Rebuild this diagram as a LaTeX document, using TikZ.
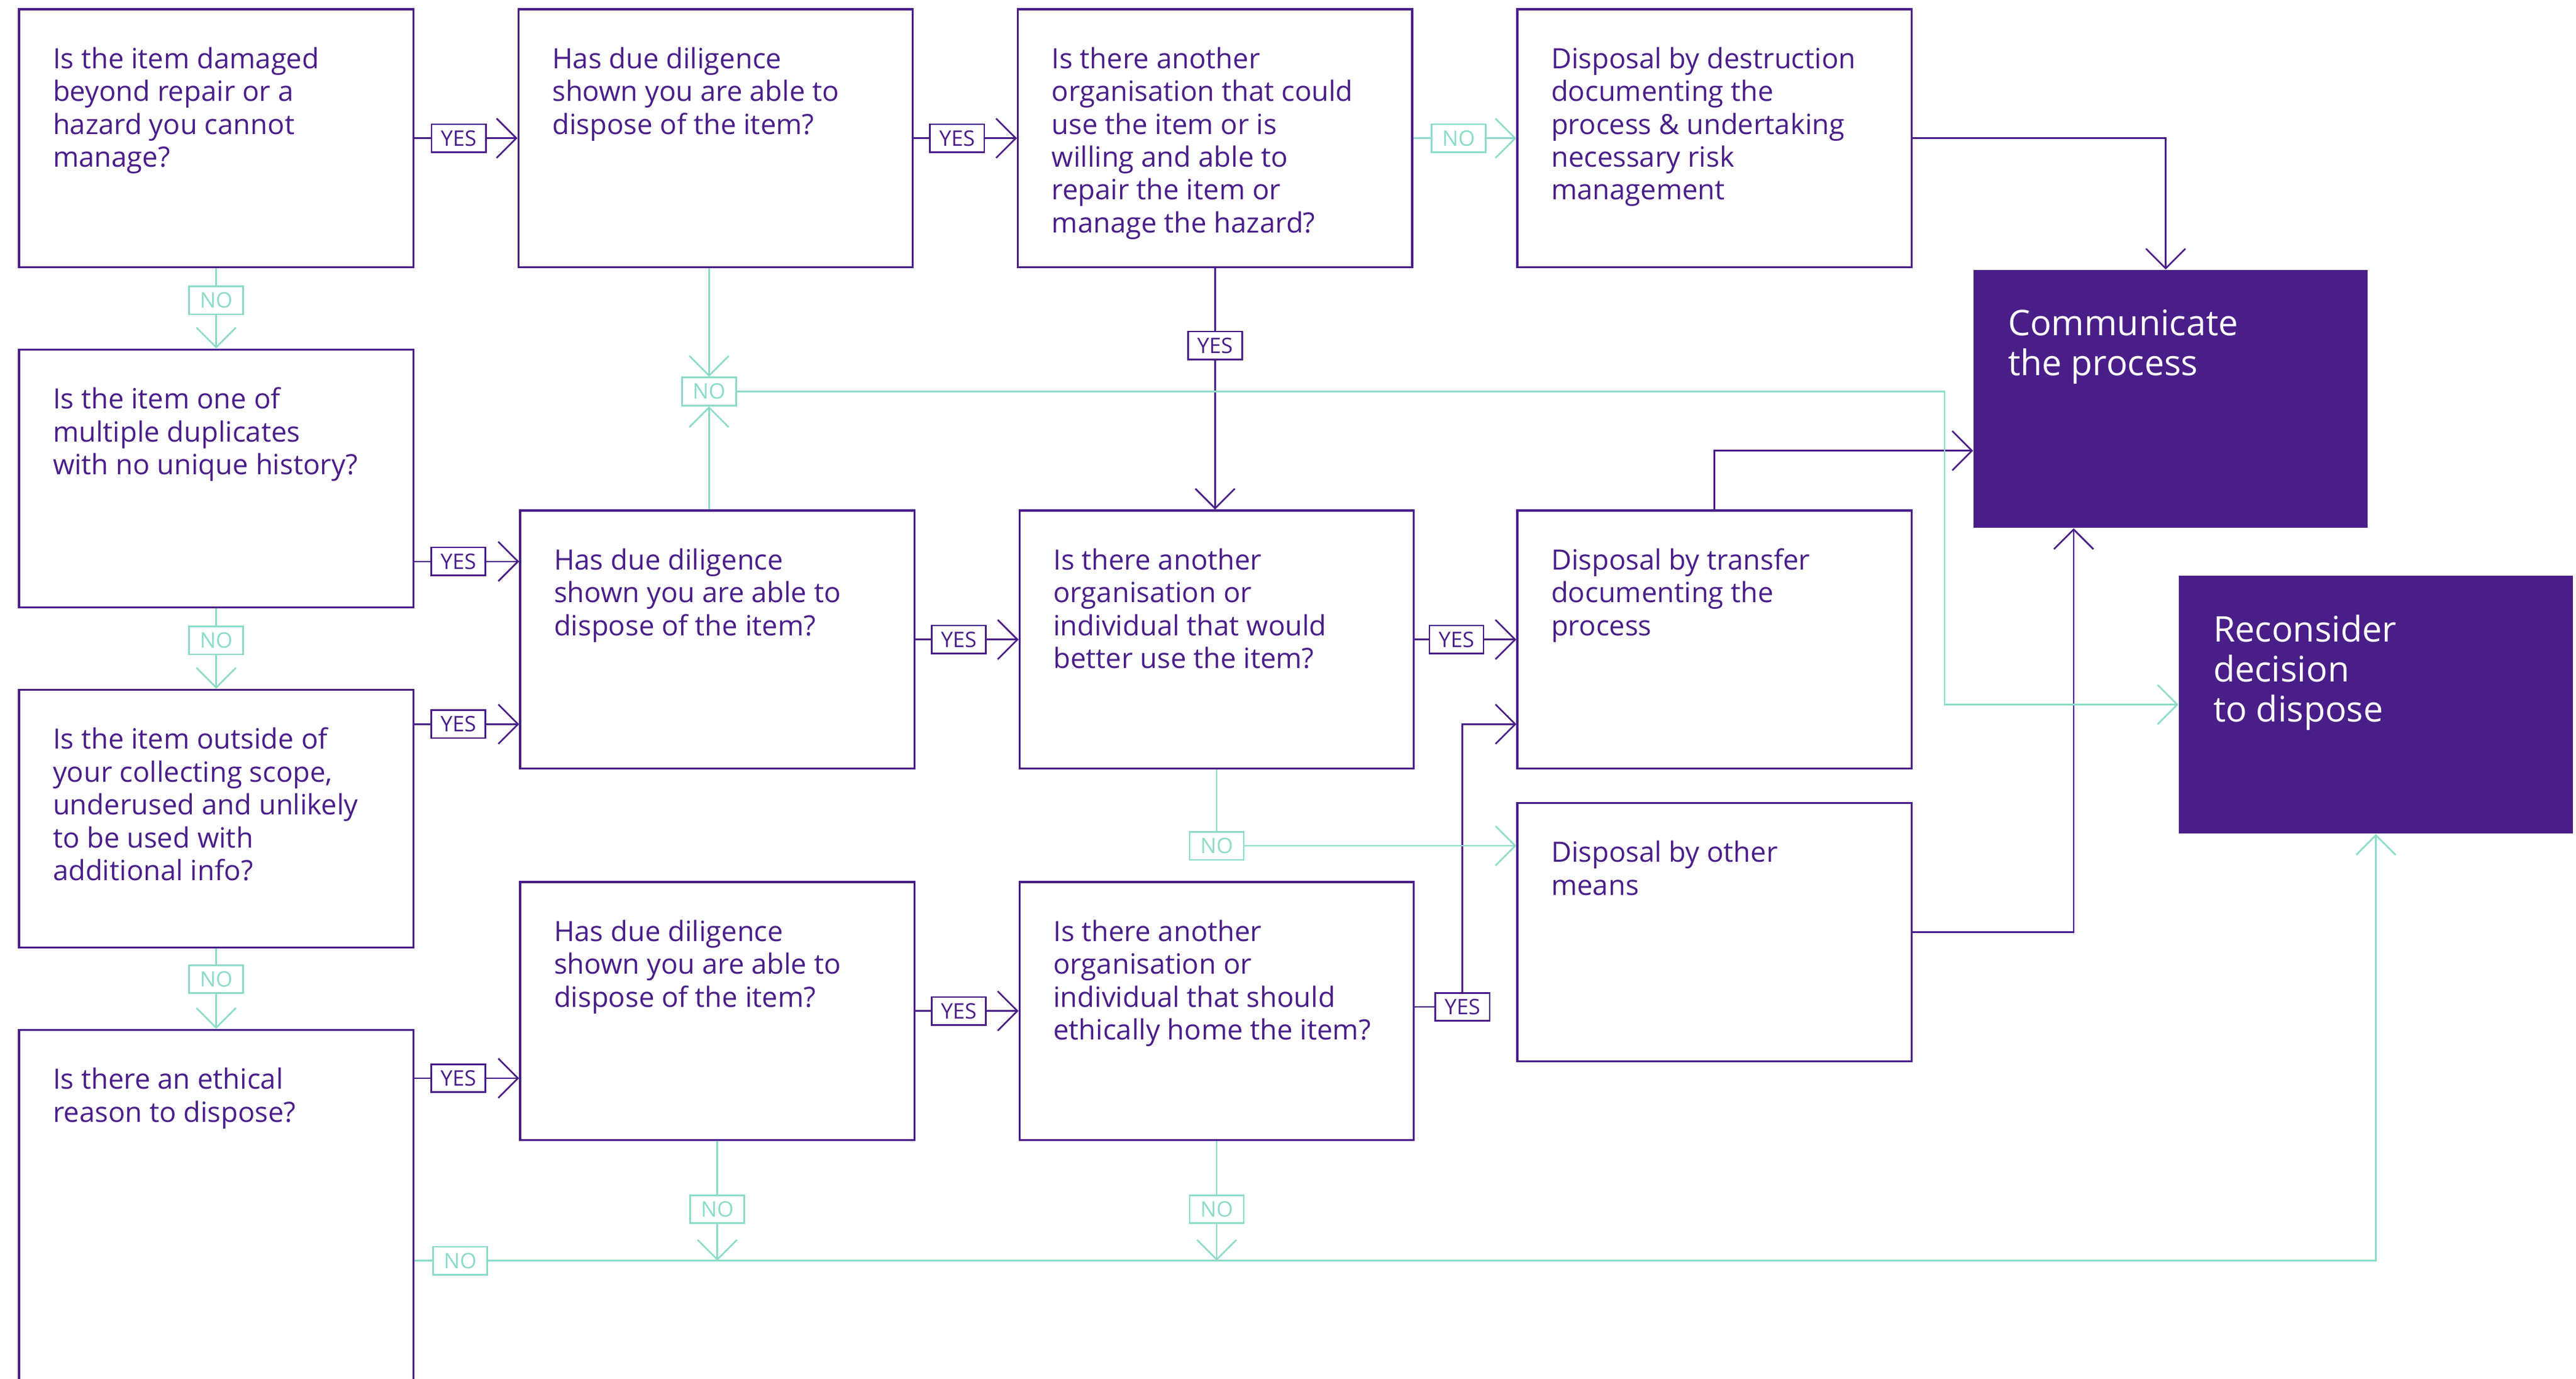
\documentclass[tikz,border=0pt]{standalone}
\usepackage{fontspec}
\setmainfont{Open Sans}
\usetikzlibrary{arrows.meta}
\definecolor{pur}{RGB}{73,30,137}
\definecolor{mint}{RGB}{140,220,200}
\begin{document}
\begin{tikzpicture}[x=1pt,y=-1pt,
 box/.style={draw=pur, line width=1.2pt, minimum width=240pt, minimum height=157pt, anchor=north west, inner sep=0pt},
 fbox/.style={fill=pur, draw=none, minimum width=240pt, minimum height=157pt, anchor=north west, inner sep=0pt},
 qtext/.style={anchor=north west, inner sep=0pt, align=left, text=pur, font=\fontsize{17}{20}\selectfont},
 ftext/.style={anchor=north west, inner sep=0pt, align=left, text=white, font=\fontsize{21.5}{24.3}\selectfont},
 yline/.style={draw=pur, line width=1pt},
 nline/.style={draw=mint, line width=1pt},
 tip/.style={-{Straight Barb[length=12pt,width=24pt]}},
 yeslab/.style={draw=pur, fill=white, text=pur, line width=1pt, minimum width=33pt, minimum height=17pt, inner sep=0pt, font=\fontsize{13}{14}\selectfont},
 nolab/.style={draw=mint, fill=white, text=mint, line width=1pt, minimum width=33pt, minimum height=17pt, inner sep=0pt, font=\fontsize{13}{14}\selectfont}
]
\useasboundingbox (0,0) rectangle (1568,839);
\clip (0,0) rectangle (1568,839);
% boxes
\node[box] (a1) at (11,5) {};
\node[box] (a2) at (11,212) {};
\node[box] (a3) at (11,419) {};
\node[box, minimum height=260pt] (a4) at (11,626) {};
\node[box] (b1) at (315,5) {};
\node[box] (b2) at (316,310) {};
\node[box] (b3) at (316,536) {};
\node[box] (c1) at (619,5) {};
\node[box] (c2) at (620,310) {};
\node[box] (c3) at (620,536) {};
\node[box] (d1) at (923,5) {};
\node[box] (d2) at (923,310) {};
\node[box] (d3) at (923,488) {};
\node[fbox] (e1) at (1201,164) {};
\node[fbox] (e2) at (1326,350) {};
% texts
\node[qtext] (a1t) at ([xshift=21pt,yshift=-23.5pt]a1.north west) {Is the item damaged\\beyond repair or a\\hazard you cannot\\manage?};
\node[qtext] (a2t) at ([xshift=21pt,yshift=-23.5pt]a2.north west) {Is the item one of\\multiple duplicates\\with no unique history?};
\node[qtext] (a3t) at ([xshift=21pt,yshift=-23.5pt]a3.north west) {Is the item outside of\\your collecting scope,\\underused and unlikely\\to be used with\\additional info?};
\node[qtext] (a4t) at ([xshift=21pt,yshift=-23.5pt]a4.north west) {Is there an ethical\\reason to dispose?};
\node[qtext] (b1t) at ([xshift=21pt,yshift=-23.5pt]b1.north west) {Has due diligence\\shown you are able to\\dispose of the item?};
\node[qtext] (b2t) at ([xshift=21pt,yshift=-23.5pt]b2.north west) {Has due diligence\\shown you are able to\\dispose of the item?};
\node[qtext] (b3t) at ([xshift=21pt,yshift=-23.5pt]b3.north west) {Has due diligence\\shown you are able to\\dispose of the item?};
\node[qtext] (c1t) at ([xshift=21pt,yshift=-23.5pt]c1.north west) {Is there another\\organisation that could\\use the item or is\\willing and able to\\repair the item or\\manage the hazard?};
\node[qtext] (c2t) at ([xshift=21pt,yshift=-23.5pt]c2.north west) {Is there another\\organisation or\\individual that would\\better use the item?};
\node[qtext] (c3t) at ([xshift=21pt,yshift=-23.5pt]c3.north west) {Is there another\\organisation or\\individual that should\\ethically home the item?};
\node[qtext] (d1t) at ([xshift=21pt,yshift=-23.5pt]d1.north west) {Disposal by destruction\\documenting the\\process \& undertaking\\necessary risk\\management};
\node[qtext] (d2t) at ([xshift=21pt,yshift=-23.5pt]d2.north west) {Disposal by transfer\\documenting the\\process};
\node[qtext] (d3t) at ([xshift=21pt,yshift=-23.5pt]d3.north west) {Disposal by other\\means};
\node[ftext] (e1t) at ([xshift=21pt,yshift=-24pt]e1.north west) {Communicate\\the process};
\node[ftext] (e2t) at ([xshift=21pt,yshift=-24pt]e2.north west) {Reconsider\\decision\\to dispose};
% helper coordinates
\coordinate (a2y) at ([yshift=-50.5pt]a2.east);
\coordinate (a3y) at ([yshift=57.5pt]a3.east);
\coordinate (a4y) at ([yshift=-30pt]a4.north east);
\coordinate (a4n) at ([yshift=-141pt]a4.north east);
\coordinate (d2y) at ([yshift=-51.5pt]d2.west);
\coordinate (d3y) at ([yshift=52.5pt]d3.west);
\coordinate (c3y) at ([yshift=2.5pt]c3.east);
\coordinate (k1) at ([xshift=29pt]c3y);
\coordinate (e1n) at ([xshift=-3pt]e1.north);
\coordinate (e1y) at ([yshift=-31.5pt]e1.west);
\coordinate (e1s) at ([xshift=-59pt]e1.south);
\coordinate (b1s) at ([xshift=-4pt]b1.south);
% YES connectors
\draw[yline,tip] (a1.east) -- node[yeslab,pos=0.43] (y1) {YES} (b1.west);
\draw[yline,tip] (b1.east) -- node[yeslab,pos=0.42] (y2) {YES} (c1.west);
\draw[yline,tip] (c1.south) -- node[yeslab,pos=0.32] (y3) {YES} (c1.south |- c2.north);
\draw[yline,tip] (a2y) -- node[yeslab,pos=0.42] (y4) {YES} (a2y -| b2.west);
\draw[yline,tip] (a3y) -- node[yeslab,pos=0.42] (y5) {YES} (a3y -| b2.west);
\draw[yline,tip] (b2.east) -- node[yeslab,pos=0.42] (y6) {YES} (c2.west);
\draw[yline,tip] (c2.east) -- node[yeslab,pos=0.41] (y7) {YES} (d2.west);
\draw[yline,tip] (a4y) -- node[yeslab,pos=0.42] (y8) {YES} (a4y -| b3.west);
\draw[yline,tip] (b3.east) -- node[yeslab,pos=0.42] (y9) {YES} (c3.west);
\draw[yline,tip] (c3y) -- (k1) |- (d2y);
\node[yeslab] (y10) at (k1) {YES};
\draw[yline,tip] (d1.east) -| (e1n);
\draw[yline,tip] (d2.north) |- (e1y);
\draw[yline,tip] (d3.east) -| (e1s);
% NO connectors
\draw[nline,tip] (a1.south) -- node[nolab,pos=0.4] (n1) {NO} (a2.north);
\draw[nline,tip] (a2.south) -- node[nolab,pos=0.4] (n2) {NO} (a3.north);
\draw[nline,tip] (a3.south) -- node[nolab,pos=0.38] (n3) {NO} (a4.north);
\draw[nline,tip] (c1.east) -- node[nolab,pos=0.44] (n4) {NO} (d1.west);
\node[nolab] (n5) at ([yshift=-75pt]b1s) {NO};
\coordinate (k2) at ([xshift=735pt]n5.east);
\draw[nline,tip] (b1s) -- (n5.north);
\draw[nline,tip] (n5 |- b2.north) -- (n5.south);
\draw[nline,tip] (n5.east) -- (k2) |- (e2.west);
\draw[nline,tip] (c2.south) |- node[nolab,pos=0.5] (n6) {NO} (d3y);
\draw[nline,tip] (a4n) -| node[nolab,pos=0.0117] (n7) {NO} (e2.south);
\draw[nline,tip] (b3.south) -- node[nolab,pos=0.57] (n8) {NO} (b3.south |- a4n);
\draw[nline,tip] (c3.south) -- node[nolab,pos=0.57] (n9) {NO} (c3.south |- a4n);
\end{tikzpicture}
\end{document}
